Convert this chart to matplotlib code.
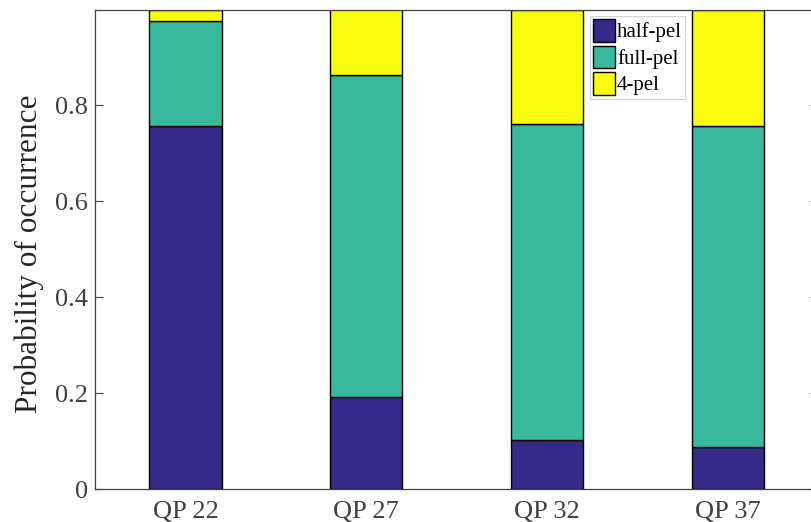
import matplotlib
matplotlib.use("Agg")
import matplotlib.pyplot as plt
import numpy as np

categories = ["QP 22", "QP 27", "QP 32", "QP 37"]
half_pel = [0.756, 0.191, 0.102, 0.088]
full_pel = [0.219, 0.673, 0.659, 0.669]
four_pel = [0.025, 0.136, 0.239, 0.243]
series_names = ["half-pel", "full-pel", "4-pel"]
colors = ["#352a87", "#38b99e", "#f9fb0e"]
yticks = [0, 0.2, 0.4, 0.6, 0.8]
ytick_labels = ["0", "0.2", "0.4", "0.6", "0.8"]

plt.rcParams['font.family'] = ['Liberation Serif', 'DejaVu Serif']

fig = plt.figure(figsize=(8.12, 5.22), dpi=100)
W, H = 812, 522
left, right, bottom, top = 95.2, 818.0, 489.0, 9.5
ax = fig.add_axes([left / W, (H - bottom) / H, (right - left) / W, (bottom - top) / H])

x = np.arange(1, len(categories) + 1)
base = np.zeros(len(categories))
for vals, name, c in zip([half_pel, full_pel, four_pel], series_names, colors):
    ax.bar(x, vals, width=0.4, bottom=base, color=c, edgecolor="black", linewidth=1.0, label=name, zorder=2)
    base = base + np.array(vals)

ax.set_xlim(0.5, 4.5)
ax.set_ylim(0, 1.0)
ax.set_xticks(x)
ax.set_xticklabels(categories)
ax.set_yticks(yticks)
ax.set_yticklabels(ytick_labels)
axcol = "#404040"
ax.tick_params(direction="in", length=5.5, width=0.8, colors=axcol, labelsize=19,
               top=True, right=True)
ax.tick_params(axis="x", pad=9)
ax.tick_params(axis="y", pad=5)
for s in ax.spines.values():
    s.set_color(axcol)
    s.set_linewidth(0.9)
    s.set_zorder(3)
ax.set_ylabel("Probability of occurrence", fontsize=22.5, color="#262626")
ax.yaxis.set_label_coords((44 - left) / (right - left), (bottom - 254) / (bottom - top))

leg = ax.legend(loc="upper left", bbox_to_anchor=((590 - left) / (right - left), 1 - (16 - top) / (bottom - top)),
                fontsize=15, frameon=True, fancybox=False, borderpad=0.15, labelspacing=0.15,
                handlelength=1.05, handleheight=1.3, handletextpad=0.1, borderaxespad=0.0)
leg.get_frame().set_edgecolor("#c8c8c8")
leg.get_frame().set_linewidth(0.8)

fig.savefig("out.png", dpi=100)
